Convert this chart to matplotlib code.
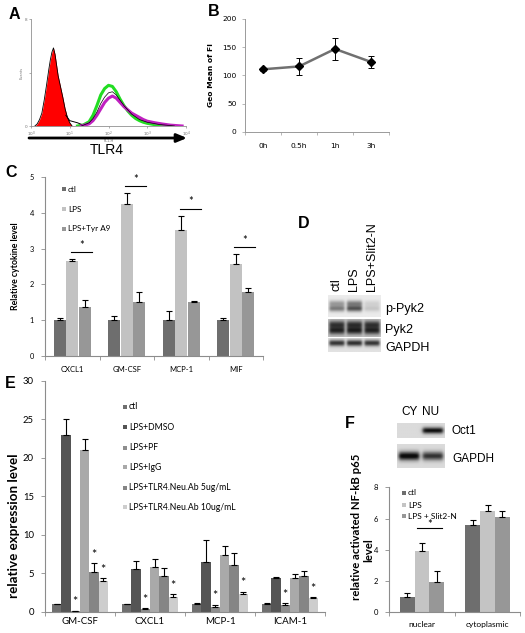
import numpy as np
import matplotlib
matplotlib.use("Agg")
import matplotlib.pyplot as plt
from matplotlib.patches import Rectangle

# ---------------- data ----------------
# Panel A: flow cytometry histograms (log10 fluorescence, normalised counts)
iso_x = [0.10, 0.16, 0.22, 0.28, 0.34, 0.40, 0.46, 0.50, 0.54, 0.58, 0.62, 0.66, 0.70, 0.76, 0.82, 0.88, 0.94, 1.00, 1.06]
iso_y = [0.00, 0.02, 0.06, 0.12, 0.24, 0.38, 0.53, 0.62, 0.69, 0.73, 0.67, 0.57, 0.47, 0.37, 0.27, 0.16, 0.08, 0.03, 0.00]
tail_x = [0.90, 1.00, 1.10, 1.20, 1.30, 1.40]
tail_y = [0.10, 0.05, 0.04, 0.03, 0.015, 0.00]
green_x = [1.20, 1.35, 1.50, 1.60, 1.70, 1.80, 1.90, 2.00, 2.10, 2.20, 2.30, 2.40, 2.50, 2.60, 2.70, 2.80, 2.90, 3.00, 3.20, 3.40, 3.60]
green_y = [0.00, 0.01, 0.04, 0.10, 0.19, 0.29, 0.35, 0.38, 0.37, 0.32, 0.25, 0.19, 0.14, 0.10, 0.07, 0.05, 0.035, 0.025, 0.012, 0.005, 0.00]
purple_x = [1.30, 1.50, 1.60, 1.70, 1.80, 1.90, 2.00, 2.10, 2.20, 2.30, 2.40, 2.50, 2.60, 2.70, 2.80, 2.90, 3.00, 3.20, 3.40, 3.60, 3.90]
purple_y = [0.00, 0.02, 0.05, 0.10, 0.16, 0.22, 0.26, 0.28, 0.26, 0.22, 0.18, 0.15, 0.12, 0.10, 0.08, 0.06, 0.045, 0.03, 0.018, 0.008, 0.00]
black_x = [1.30, 1.50, 1.60, 1.70, 1.80, 1.90, 2.00, 2.10, 2.20, 2.30, 2.40, 2.50, 2.60, 2.80, 3.00, 3.30, 3.70]
black_y = [0.00, 0.03, 0.07, 0.13, 0.21, 0.27, 0.31, 0.32, 0.29, 0.24, 0.19, 0.15, 0.11, 0.06, 0.035, 0.015, 0.00]
a_xticklabels = ["$10^0$", "$10^1$", "$10^2$", "$10^3$", "$10^4$"]

# Panel B
b_times = ["0h", "0.5h", "1h", "3h"]
b_mean = [111, 116, 147, 124]
b_err = [3, 15, 20, 10]

# Panel C
c_cats = ["CXCL1", "GM-CSF", "MCP-1", "MIF"]
c_labels = ["ctl", "LPS", "LPS+Tyr A9"]
c_vals = [[1.00, 1.00, 1.00, 1.00],
          [2.66, 4.25, 3.51, 2.58],
          [1.36, 1.50, 1.50, 1.80]]
c_errs = [[0.05, 0.13, 0.25, 0.05],
          [0.04, 0.30, 0.41, 0.26],
          [0.20, 0.29, 0.05, 0.09]]

# Panel D blot (relative band intensities per lane)
d_lanes = ["ctl", "LPS", "LPS+Slit2-N"]
d_blots = ["p-Pyk2", "Pyk2", "GAPDH"]
d_ppyk2 = [0.45, 0.62, 0.15]
d_pyk2 = [0.70, 0.72, 0.70]
d_gapdh = [0.72, 0.75, 0.72]

# Panel E
e_cats = ["GM-CSF", "CXCL1", "MCP-1", "ICAM-1"]
e_labels = ["ctl", "LPS+DMSO", "LPS+PF", "LPS+IgG", "LPS+TLR4.Neu.Ab 5ug/mL", "LPS+TLR4.Neu.Ab 10ug/mL"]
e_vals = [[1.00, 1.00, 1.00, 0.97],
          [23.0, 5.50, 6.40, 4.35],
          [0.10, 0.40, 0.57, 0.87],
          [21.0, 5.87, 7.40, 4.43],
          [5.20, 4.65, 6.10, 4.70],
          [4.00, 1.96, 2.27, 1.75]]
e_errs = [[0.05, 0.05, 0.10, 0.22],
          [2.00, 1.15, 2.95, 0.15],
          [0.05, 0.10, 0.33, 0.23],
          [1.50, 1.00, 1.10, 0.45],
          [1.10, 1.05, 1.50, 0.60],
          [0.40, 0.34, 0.33, 0.10]]
e_sig = [[0, 0, 0, 0],
         [0, 0, 0, 0],
         [1, 1, 1, 1],
         [0, 0, 0, 0],
         [1, 0, 0, 0],
         [1, 1, 1, 1]]

# Panel F
f_lanes = ["CY", "NU"]
f_oct1 = [0.0, 0.85]
f_gapdh = [0.90, 0.70]
f_cats = ["nuclear", "cytoplasmic"]
f_labels = ["ctl", "LPS", "LPS + Slit2-N"]
f_vals = [[1.00, 5.60], [3.95, 6.50], [1.95, 6.13]]
f_errs = [[0.22, 0.30], [0.47, 0.36], [0.68, 0.37]]

# ---------------- styling ----------------
W, H = 525, 633
fig = plt.figure(figsize=(W / 100, H / 100), dpi=100)
fig.patch.set_facecolor("white")
SANS = ["Liberation Sans", "DejaVu Sans"]
CAL = ["Lato", "DejaVu Sans"]
AXC = "#8c8c8c"


def add_ax(x0, y0, x1, y1):
    return fig.add_axes([x0 / W, 1 - y1 / H, (x1 - x0) / W, (y1 - y0) / H])


def ftext(x, y, s, **kw):
    fig.text(x / W, 1 - y / H, s, **kw)


def panel_label(x, y, s):
    ftext(x, y, s, fontsize=11.5, fontweight="bold", family=SANS, ha="center", va="center")


def fig_legend(x, ys, labels, colors, fs, sq=4.2):
    for y, lab, col in zip(ys, labels, colors):
        fig.add_artist(Rectangle((x / W, 1 - (y + sq / 2) / H), sq / W, sq / H,
                                 transform=fig.transFigure, facecolor=col, edgecolor="none"))
        ftext(x + sq + 2.2, y, lab, fontsize=fs, family=CAL, ha="left", va="center")


def style_cat_axes(ax, cats, ylim, yticks, fs_y, fs_x, xpad, ypad):
    n = len(cats)
    ax.set_xlim(-0.5, n - 0.5)
    ax.set_ylim(*ylim)
    for s in ["top", "right"]:
        ax.spines[s].set_visible(False)
    for s in ["left", "bottom"]:
        ax.spines[s].set_color(AXC)
        ax.spines[s].set_linewidth(0.8)
    ax.set_yticks(yticks)
    ax.set_yticklabels([f"{t:g}" for t in yticks], family=CAL)
    ax.tick_params(axis="y", direction="out", length=3, width=0.6, color=AXC, labelsize=fs_y, pad=ypad)
    ax.set_xticks(range(n))
    ax.set_xticklabels(cats, family=CAL)
    ax.tick_params(axis="x", which="major", length=0, labelsize=fs_x, pad=xpad)
    ax.set_xticks(np.arange(-0.5, n, 1.0), minor=True)
    ax.tick_params(axis="x", which="minor", length=3, width=0.6, direction="out", color=AXC)


def bars(ax, vals, errs, colors, width, offsets):
    x = np.arange(len(vals[0]))
    for v, e, c, off in zip(vals, errs, colors, offsets):
        ax.bar(x + off, v, width=width, color=c, edgecolor="none", zorder=2)
        ax.errorbar(x + off, v, yerr=[np.zeros(len(e)), e], fmt="none", ecolor="black",
                    elinewidth=0.8, capsize=2.0, capthick=0.8, zorder=3)


def blot(ax, lanes, row_fracs, sigma, bg, lane_fill=0.85):
    nl = len(lanes)
    hh, ww = 40, 60 * nl
    yy = np.linspace(0, 1, hh)[:, None]
    xx = np.linspace(0, nl, ww)[None, :]
    img = np.full((hh, ww), bg)
    for i, inten in enumerate(lanes):
        d = np.abs(xx - (i + 0.5))
        prof = 1.0 / (1.0 + np.exp((d - lane_fill / 2) / 0.04))
        for rf, rw in row_fracs:
            img = img + inten * rw * prof * np.exp(-0.5 * ((yy - rf) / sigma) ** 2)
    ax.imshow(np.clip(img, 0, 1), cmap="gray_r", vmin=0, vmax=1.05, aspect="auto",
              interpolation="bilinear")
    ax.set_xticks([])
    ax.set_yticks([])
    for s in ax.spines.values():
        s.set_visible(False)


# ---------------- Panel A ----------------
axA = add_ax(31, 19, 186, 126)
axA.fill_between(iso_x, iso_y, color="#ff0000", lw=0, zorder=2)
axA.plot(iso_x, iso_y, color="black", lw=0.6, zorder=3)
axA.plot(tail_x, tail_y, color="black", lw=0.7, zorder=3)
axA.plot(green_x, green_y, color="#22dd22", lw=2.2, zorder=2)
axA.plot(purple_x, purple_y, color="#c020c0", lw=2.2, zorder=3)
axA.plot(black_x, black_y, color="black", lw=0.5, zorder=4)
axA.set_xlim(0, 4)
axA.set_ylim(0, 1)
for s in ["top", "right"]:
    axA.spines[s].set_visible(False)
for s in ["left", "bottom"]:
    axA.spines[s].set_color("#909090")
    axA.spines[s].set_linewidth(0.6)
axA.set_xticks(range(5))
axA.set_xticklabels(a_xticklabels, fontsize=3)
axA.set_yticks([0, 0.5, 1])
axA.set_yticklabels(["0", "", "8"], fontsize=3)
axA.tick_params(length=1.5, width=0.4, pad=1, colors="#707070")
axA.set_xlabel("FL1-H", fontsize=2.5, labelpad=0.5, color="#707070")
axA.set_ylabel("Events", fontsize=2.5, labelpad=1, color="#707070")
axA.annotate("", xy=(187 / W, 1 - 138 / H), xytext=(29 / W, 1 - 138 / H),
             xycoords="figure fraction", textcoords="figure fraction",
             arrowprops=dict(arrowstyle="-|>,head_length=0.6,head_width=0.25", lw=2.0, color="black",
                             shrinkA=0, shrinkB=0))
ftext(107, 150, "TLR4", fontsize=10, family=SANS, ha="center", va="center")
panel_label(14, 14.5, "A")

# ---------------- Panel B ----------------
axB = add_ax(245, 19, 389, 132)
xb = np.arange(len(b_times))
axB.errorbar(xb, b_mean, yerr=b_err, fmt="none", ecolor="black", elinewidth=0.7, capsize=2, capthick=0.7, zorder=2)
axB.plot(xb, b_mean, color="#707070", lw=1.8, marker="D", ms=3.8, mfc="black", mec="black", zorder=3)
axB.set_xlim(-0.5, len(b_times) - 0.5)
axB.set_ylim(0, 200)
for s in ["top", "right"]:
    axB.spines[s].set_visible(False)
for s in ["left", "bottom"]:
    axB.spines[s].set_color("#9a9a9a")
    axB.spines[s].set_linewidth(0.7)
axB.set_yticks([0, 50, 100, 150, 200])
axB.tick_params(axis="y", length=2, width=0.5, color="#9a9a9a", labelsize=5.4, pad=4)
axB.set_xticks(xb)
axB.set_xticklabels(b_times)
axB.tick_params(axis="x", which="major", length=0, labelsize=5.4, pad=8)
axB.set_xticks(np.arange(-0.5, len(b_times), 1.0), minor=True)
axB.tick_params(axis="x", which="minor", length=2.5, width=0.5, color="#9a9a9a")
axB.set_ylabel("Geo Mean of FI", fontsize=5.4, fontweight="bold", labelpad=6)
panel_label(213.5, 11.5, "B")

# ---------------- Panel C ----------------
axC = add_ax(45, 177, 263, 356)
c_colors = ["#6e6e6e", "#c2c2c2", "#979797"]
bars(axC, c_vals, c_errs, c_colors, 0.225, [-0.228, 0.0, 0.228])
style_cat_axes(axC, c_cats, (0, 5), [0, 1, 2, 3, 4, 5], 5.3, 5.5, 7, 5)
axC.set_ylabel("Relative cytokine level", fontsize=6.3, fontweight="bold", family=CAL, labelpad=7)
for i in range(len(c_cats)):
    top = c_vals[1][i] + c_errs[1][i] + 0.2
    axC.plot([i - 0.03, i + 0.36], [top, top], color="black", lw=0.8)
    axC.text(i + 0.165, top + 0.03, "*", fontsize=8, ha="center", va="bottom", family=CAL)
fig_legend(61.7, [189, 209, 229], c_labels, c_colors, 5.9)
panel_label(11, 172, "C")

# ---------------- Panel D ----------------
axD1 = add_ax(327.7, 295, 380.7, 317)
blot(axD1, d_ppyk2, [(0.38, 0.7), (0.62, 1.0)], 0.10, 0.08)
axD2 = add_ax(327.7, 319, 380.7, 337)
blot(axD2, d_pyk2, [(0.30, 0.8), (0.65, 0.9)], 0.15, 0.25)
axD3 = add_ax(327.7, 337.5, 380.7, 352)
blot(axD3, d_gapdh, [(0.40, 1.0)], 0.15, 0.12)
for k, lab in enumerate(d_lanes):
    ftext(336.5 + k * 17.5, 291, lab, fontsize=9, family=SANS, rotation=90, ha="center", va="bottom")
for lab, y in zip(d_blots, [309, 330, 348]):
    ftext(385, y, lab, fontsize=9, family=SANS, ha="left", va="center")
panel_label(304, 224, "D")

# ---------------- Panel E ----------------
axE = add_ax(45, 381, 325, 611.7)
e_colors = ["#6f6f6f", "#545454", "#8e8e8e", "#a9a9a9", "#858585", "#cdcdcd"]
ew = 0.133
e_off = [(k - 2.5) * ew for k in range(len(e_labels))]
bars(axE, e_vals, e_errs, e_colors, ew, e_off)
style_cat_axes(axE, e_cats, (0, 30), [0, 5, 10, 15, 20, 25, 30], 6.8, 7, 3.5, 5)
ftext(14, 526, "relative expression level", fontsize=9.6, fontweight="bold", family=CAL,
      rotation=90, ha="center", va="center")
for k in range(len(e_labels)):
    for i in range(len(e_cats)):
        if e_sig[k][i]:
            axE.text(i + e_off[k], e_vals[k][i] + e_errs[k][i] + 0.3, "*", fontsize=9,
                     ha="center", va="bottom", family=CAL)
fig_legend(122.5, [406.7, 427.3, 447.7, 467.3, 487.7, 507.3], e_labels, e_colors, 6.2)
panel_label(10, 383, "E")

# ---------------- Panel F ----------------
axF1 = add_ax(396.7, 423.3, 444.3, 438.3)
blot(axF1, f_oct1, [(0.5, 1.0)], 0.15, 0.15)
axF2 = add_ax(396.7, 444.3, 444.3, 468.3)
blot(axF2, f_gapdh, [(0.5, 1.0)], 0.13, 0.15)
for k, lab in enumerate(f_lanes):
    ftext(410 + k * 20.5, 412, lab, fontsize=8.5, family=SANS, ha="center", va="center")
ftext(452, 431, "Oct1", fontsize=8.5, family=SANS, ha="left", va="center")
ftext(452, 459, "GAPDH", fontsize=8.5, family=SANS, ha="left", va="center")

axF = add_ax(389.3, 487.3, 520.3, 612.3)
f_colors = ["#6e6e6e", "#c4c4c4", "#979797"]
bars(axF, f_vals, f_errs, f_colors, 0.225, [-0.225, 0.0, 0.225])
style_cat_axes(axF, f_cats, (0, 8), [0, 2, 4, 6, 8], 5.5, 6, 6, 5)
ftext(356, 527, "relative activated NF-kB p65", fontsize=8.2, fontweight="bold", family=CAL,
      rotation=90, ha="center", va="center")
ftext(368.5, 550, "level", fontsize=8.2, fontweight="bold", family=CAL,
      rotation=90, ha="center", va="center")
topf = 5.38
axF.plot([-0.07, 0.30], [topf, topf], color="black", lw=0.8)
axF.text(0.115, topf - 0.12, "*", fontsize=8, ha="center", va="bottom", family=CAL)
fig_legend(401.7, [492.7, 505.0, 516.3], f_labels, f_colors, 6)
panel_label(350, 423, "F")

fig.savefig("out.png", dpi=100, facecolor="white")
